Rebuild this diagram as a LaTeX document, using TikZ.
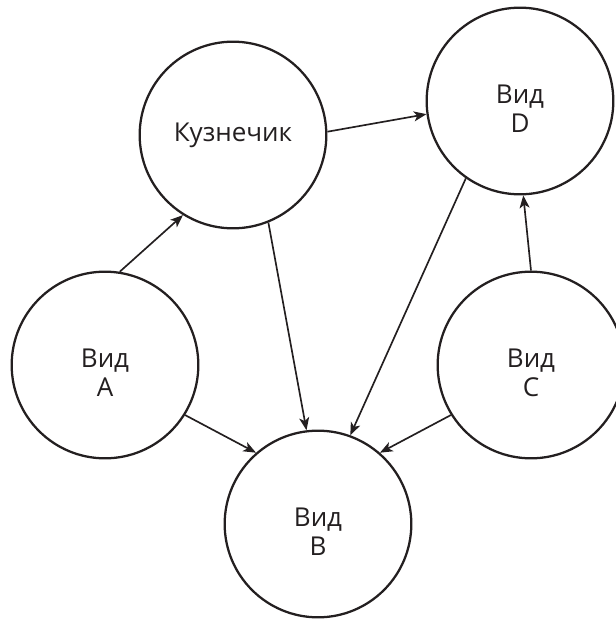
\documentclass[tikz,border=0pt]{standalone}
\usepackage{fontspec}
\setmainfont{Open Sans}
\usetikzlibrary{arrows.meta}
\definecolor{ink}{HTML}{231F20}
\tikzset{
  view/.style={circle, draw=ink, line width=1.7pt, minimum size=140pt, inner sep=0pt},
  lbl/.style={text=ink, align=center, font=\fontsize{19.5}{21.75}\selectfont, inner sep=0pt},
  conn/.style={draw=ink, line width=1.25pt, -{Stealth[length=9.5pt, width=7.5pt, inset=2.5pt]}}
}
\begin{document}
\begin{tikzpicture}[x=0.75pt, y=-0.75pt]
\useasboundingbox (0,0) rectangle (616,619);
\clip (0,0) rectangle (616,619);
\node[view] (K) at (233,135) {};
\node[view] (D) at (520,101) {};
\node[view] (A) at (105,365) {};
\node[view] (C) at (531,365) {};
\node[view] (B) at (318,524) {};
\node[lbl] (Kt) at (233,135) {Кузнечик};
\node[lbl] (Dt) at (520,109) {Вид\\D};
\node[lbl] (At) at (105,373) {Вид\\A};
\node[lbl] (Ct) at (531,373) {Вид\\C};
\node[lbl] (Bt) at (318,532) {Вид\\B};
\draw[conn] (A.81) -- (K.238);
\draw[conn] (K.2) -- (D.188);
\draw[conn] (K.292) -- (B.97);
\draw[conn] (D.235) -- (B.70);
\draw[conn] (A.328) -- (B.131);
\draw[conn] (C.212) -- (B.49);
\draw[conn] (C.90) -- (D.272);
\end{tikzpicture}
\end{document}
